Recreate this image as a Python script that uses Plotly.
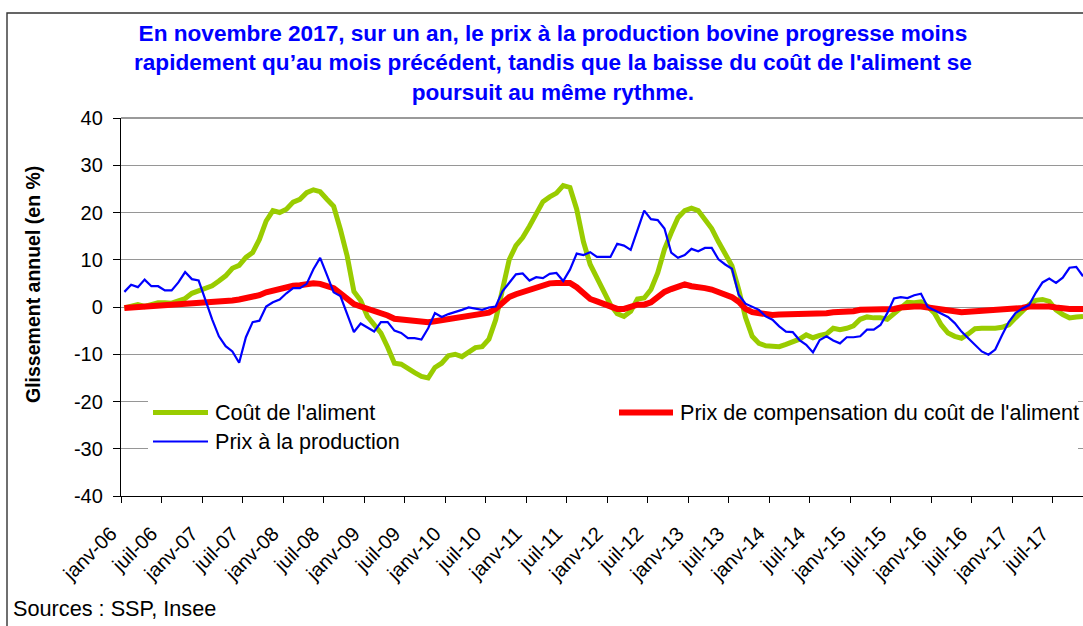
import plotly.graph_objects as go

# ---------------- data ----------------
tick_labels = ["janv-06", "juil-06", "janv-07", "juil-07", "janv-08", "juil-08",
               "janv-09", "juil-09", "janv-10", "juil-10", "janv-11", "juil-11",
               "janv-12", "juil-12", "janv-13", "juil-13", "janv-14", "juil-14",
               "janv-15", "juil-15", "janv-16", "juil-16", "janv-17", "juil-17"]
y_tick_values = [-40, -30, -20, -10, 0, 10, 20, 30, 40]
y_tick_labels = ["-40", "-30", "-20", "-10", "0", "10", "20", "30", "40"]

cout_aliment = [
    -0.2, 0.1, 0.5, 0.1, 0.4, 0.9, 0.9, 0.8, 1.3, 1.8, 2.9, 3.4,
    3.8, 4.5, 5.5, 6.6, 8.2, 8.8, 10.5, 11.5, 14.3, 18.2, 20.4, 20.0,
    20.7, 22.2, 22.8, 24.2, 24.8, 24.4, 22.8, 21.3, 16.4, 10.8, 3.3, 1.4,
    -2.0, -3.8, -5.5, -8.5, -11.9, -12.1, -13.1, -13.9, -14.7, -15.0, -12.8, -11.9,
    -10.3, -10.0, -10.5, -9.5, -8.6, -8.4, -6.8, -2.7, 4.0, 10.0, 13.0, 14.7,
    17.1, 19.8, 22.3, 23.3, 24.1, 25.7, 25.3, 20.7, 13.8, 9.0, 6.0, 3.3,
    0.5, -1.4, -2.0, -0.9, 1.7, 1.9, 3.7, 7.2, 12.2, 15.7, 18.9, 20.4,
    20.9, 20.4, 18.6, 16.6, 13.8, 11.5, 8.7, 3.7, -2.2, -6.2, -7.7, -8.2,
    -8.2, -8.4, -7.9, -7.4, -6.8, -5.9, -6.5, -6.0, -5.7, -4.5, -4.8, -4.5,
    -4.0, -2.6, -2.1, -2.3, -2.3, -2.6, -1.4, -0.2, 1.0, 0.9, 1.1, 0.1,
    -1.3, -3.8, -5.5, -6.2, -6.6, -5.7, -4.6, -4.5, -4.6, -4.5, -4.3, -3.8,
    -2.3, -0.9, 0.5, 1.4, 1.6, 1.2, -0.6, -1.6, -2.3, -2.1, -2.0]

prix_compensation = [
    -0.2, -0.1, 0.0, 0.0, 0.1, 0.1, 0.2, 0.2, 0.3, 0.4, 0.5, 0.6,
    0.7, 0.9, 1.0, 1.2, 1.4, 1.6, 1.8, 2.0, 2.5, 3.1, 3.5, 3.7,
    4.2, 4.5, 4.6, 4.9, 5.0, 4.9, 4.5, 4.0, 2.9, 1.8, 0.6, 0.1,
    -0.4, -0.8, -1.1, -1.8, -2.5, -2.6, -2.8, -3.0, -3.2, -3.2, -3.0, -2.8,
    -2.4, -2.2, -2.2, -2.0, -1.9, -1.7, -1.2, -0.4, 0.9, 2.1, 2.7, 3.2,
    3.7, 4.3, 4.7, 5.0, 5.1, 5.2, 5.1, 4.2, 2.8, 1.7, 1.2, 0.7,
    0.1, -0.4, -0.4, 0.0, 0.5, 0.5, 1.0, 2.1, 3.2, 3.8, 4.4, 4.8,
    4.4, 4.3, 4.0, 3.7, 3.1, 2.6, 2.1, 1.1, -0.4, -1.1, -1.4, -1.6,
    -1.7, -1.6, -1.6, -1.6, -1.6, -1.4, -1.4, -1.3, -1.3, -1.1, -1.1, -1.0,
    -0.9, -0.6, -0.6, -0.6, -0.6, -0.5, -0.4, -0.1, 0.1, 0.1, 0.1, -0.1,
    -0.4, -0.8, -1.0, -1.1, -1.1, -1.0, -0.9, -0.8, -0.8, -0.8, -0.8, -0.7,
    -0.5, -0.2, 0.1, 0.2, 0.3, 0.1, -0.1, -0.4, -0.4, -0.4, -0.4]

prix_production = [
    3.2, 4.7, 4.2, 5.8, 4.4, 4.4, 3.5, 3.5, 5.2, 7.4, 5.9, 5.6,
    1.5, -2.6, -6.2, -8.3, -9.4, -11.8, -6.4, -3.2, -2.9, 0.1, 1.0, 1.6,
    2.9, 4.0, 4.0, 4.9, 8.0, 10.4, 6.8, 3.1, 2.3, -1.3, -5.3, -3.5,
    -4.4, -5.2, -3.2, -3.2, -5.0, -5.5, -6.6, -6.6, -6.9, -4.5, -1.3, -2.1,
    -1.5, -1.1, -0.6, -0.1, -0.3, -0.6, -0.1, 0.1, 3.3, 5.1, 6.9, 7.1,
    5.6, 6.3, 6.1, 7.0, 7.2, 5.5, 7.9, 11.3, 11.0, 11.6, 10.6, 10.6,
    10.6, 13.4, 13.0, 12.1, 16.1, 20.4, 18.6, 18.4, 16.6, 11.5, 10.4, 11.0,
    12.3, 11.8, 12.5, 12.5, 10.1, 9.0, 8.1, 2.6, 0.7, 0.1, -0.6, -2.0,
    -2.7, -4.1, -5.2, -5.3, -7.0, -8.0, -9.6, -7.0, -6.2, -7.1, -7.7, -6.4,
    -6.4, -6.2, -4.8, -4.8, -3.8, -1.3, 1.8, 2.1, 1.9, 2.5, 2.8, 0.0,
    -0.7, -1.3, -2.1, -3.4, -5.2, -6.6, -8.0, -9.4, -10.1, -9.0, -6.0, -3.2,
    -1.3, -0.3, 0.4, 3.0, 5.2, 6.0, 5.1, 6.2, 8.3, 8.5, 6.5]

series_names = ["Coût de l'aliment", "Prix de compensation du coût de l'aliment",
                "Prix à la production"]
title_text = ("En novembre 2017, sur un an, le prix à la production bovine progresse moins<br>"
              "rapidement qu’au mois précédent, tandis que la baisse du coût de l'aliment se<br>"
              "poursuit au même rythme.")
y_title = "Glissement annuel (en %)"
source_text = "Sources : SSP, Insee"

# ---------------- figure ----------------
W, H = 1083, 626
AXIS_X = 121            # pixel position of the y axis
LABEL_OFFSET = 10       # x tick labels sit this many px left of their tick marks
L, R, T, B = AXIS_X - LABEL_OFFSET, 0, 118, 130
PW, PH = W - L - R, H - T - B
MONTH_PX = 6.751


def px(x):
    return (x - L) / PW


def py(y):
    return (H - B - y) / PH


n = len(cout_aliment)
months = list(range(n))
FONT = "Liberation Sans, Arial, sans-serif"
GREEN, RED, BLUE = "#99CC00", "#FF0000", "#0000FF"

fig = go.Figure()
# empty trace so that the label-only axis pair is rendered (drawn first, underneath)
fig.add_trace(go.Scatter(x=[], y=[], xaxis="x2", yaxis="y2", mode="lines",
                         showlegend=False, hoverinfo="skip"))
fig.add_trace(go.Scatter(x=months, y=cout_aliment, mode="lines", name=series_names[0],
                         line=dict(color=GREEN, width=5), showlegend=False))
fig.add_trace(go.Scatter(x=months, y=prix_compensation, mode="lines", name=series_names[1],
                         line=dict(color=RED, width=6), showlegend=False))
fig.add_trace(go.Scatter(x=months, y=prix_production, mode="lines", name=series_names[2],
                         line=dict(color=BLUE, width=2.2), showlegend=False))

main_w = W - AXIS_X
x_end = -0.5 + main_w / MONTH_PX
boundaries = [-0.5 + 6 * k for k in range(len(tick_labels))]

fig.update_layout(
    width=W, height=H,
    margin=dict(l=L, r=R, t=T, b=B, pad=0),
    paper_bgcolor="white", plot_bgcolor="rgba(0,0,0,0)",
    font=dict(family=FONT, color="black"),
    xaxis=dict(domain=[px(AXIS_X), 1], range=[-0.5, x_end], tickmode="array",
               tickvals=boundaries, showticklabels=False,
               showgrid=False, zeroline=False, showline=True,
               linecolor="black", linewidth=1.3,
               ticks="outside", ticklen=6, tickcolor="black", tickwidth=1.2),
    yaxis=dict(range=[-40, 40], tickmode="array",
               tickvals=y_tick_values, ticktext=y_tick_labels,
               tickfont=dict(size=20, family=FONT, color="black"),
               showgrid=True, gridcolor="#969696", gridwidth=1,
               zeroline=False, showline=True, linecolor="black", linewidth=1.3,
               ticks="outside", ticklen=7, tickcolor="black", tickwidth=1.2,
               ticklabelstandoff=6),
    # label-only axis, offset to the left of the tick marks
    xaxis2=dict(domain=[0, px(AXIS_X + main_w - LABEL_OFFSET)], anchor="y2",
                range=[-0.5, x_end], tickmode="array",
                tickvals=boundaries, ticktext=tick_labels, tickangle=-45,
                tickfont=dict(size=20, family=FONT, color="black"),
                showgrid=False, zeroline=False, showline=False, ticks="",
                ticklabelstandoff=21, fixedrange=True),
    yaxis2=dict(domain=[0, 1], anchor="x2", range=[-40, 40],
                showticklabels=False, showline=False, ticks="", zeroline=False,
                showgrid=False, fixedrange=True),
)

shapes = []
annotations = []

# outer frame
shapes.append(dict(type="rect", xref="paper", yref="paper",
                   x0=px(7), x1=px(1095), y0=py(13), y1=py(640),
                   line=dict(color="#333333", width=1.4), fillcolor="rgba(0,0,0,0)",
                   layer="above"))
# top border of plot area
shapes.append(dict(type="line", xref="paper", yref="paper",
                   x0=px(AXIS_X), x1=1, y0=1, y1=1,
                   line=dict(color="#9a9a9a", width=2), layer="above"))

# legend background
shapes.append(dict(type="rect", xref="paper", yref="paper",
                   x0=px(148), x1=px(1078), y0=py(393), y1=py(458),
                   line=dict(width=0), fillcolor="white", layer="above"))

legend_items = [
    (series_names[0], GREEN, 5, 153, 208, 412.5, 213),
    (series_names[2], BLUE, 2.2, 153, 208, 441.5, 213),
    (series_names[1], RED, 6, 619, 673, 412.5, 678),
]
for name, col, w, x0, x1, yy, tx in legend_items:
    shapes.append(dict(type="line", xref="paper", yref="paper",
                       x0=px(x0), x1=px(x1), y0=py(yy), y1=py(yy),
                       line=dict(color=col, width=w), layer="above"))
    annotations.append(dict(text=name, xref="paper", yref="paper",
                            x=px(tx), y=py(yy), xanchor="left", yanchor="middle",
                            showarrow=False, font=dict(size=21.6, family=FONT, color="black")))

# title
annotations.append(dict(text="<b>" + title_text + "</b>", xref="paper", yref="paper",
                        x=px(553), y=py(63), xanchor="center", yanchor="middle",
                        showarrow=False, align="center",
                        font=dict(size=22.6, family=FONT, color="#0000FF")))
# y title
annotations.append(dict(text="<b>" + y_title + "</b>", xref="paper", yref="paper",
                        x=px(33), y=py(285), xanchor="center", yanchor="middle",
                        textangle=-90, showarrow=False,
                        font=dict(size=19.5, family=FONT, color="black")))
# sources
annotations.append(dict(text=source_text, xref="paper", yref="paper",
                        x=px(11), y=py(608), xanchor="left", yanchor="middle",
                        showarrow=False, font=dict(size=21.7, family=FONT, color="black")))

fig.update_layout(shapes=shapes, annotations=annotations)

fig.write_html("out.html",
               config={"displayModeBar": False},
               post_script="document.body.style.margin='0';document.body.style.padding='0';")
